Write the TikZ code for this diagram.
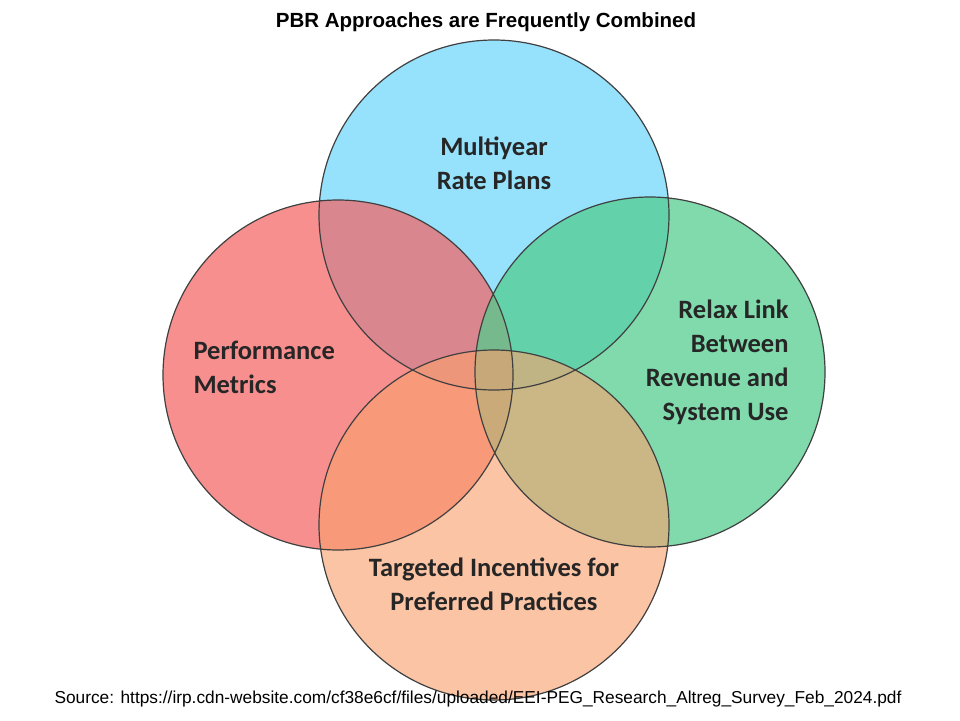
\documentclass[tikz,border=0pt]{standalone}
\usepackage{fontspec}
\setmainfont{Carlito}
\newfontfamily\lib{Liberation Sans}
\begin{document}
\begin{tikzpicture}[x=1pt,y=-1pt,
  circ/.style={fill opacity=0.72},
  lbl/.style={font=\bfseries\fontsize{26.5}{34}\selectfont,align=center,text=black!85}]
\useasboundingbox (0,0) rectangle (960,720);
\fill[white] (0,0) rectangle (960,720);
\node[font=\lib\bfseries\fontsize{20.5}{22}\selectfont] (title) at (486,22) {PBR Approaches are Frequently Combined};
\fill[circ,fill={rgb,255:red,110;green,214;blue,250}] (494,215) circle (175) coordinate (t);
\fill[circ,fill={rgb,255:red,244;green,100;blue,100}] (338,375) circle (175) coordinate (l);
\fill[circ,fill={rgb,255:red,80;green,205;blue,140}] (650,372) circle (175) coordinate (r);
\fill[circ,fill opacity=0.62,fill={rgb,255:red,250;green,160;blue,110}] (494,525) circle (175) coordinate (b);
\draw[black!75,line width=1.2pt] (494,215) circle (175) (338,375) circle (175) (650,372) circle (175) (494,525) circle (175);
\node[lbl] (n1) at (494,163) {Multiyear\\Rate Plans};
\node[lbl,align=left,anchor=west] (n2) at (190,367) {Performance\\Metrics};
\node[lbl,align=right,anchor=east] (n3) at (792,362) {Relax Link\\Between\\Revenue and\\System Use};
\node[lbl] (n4) at (494,584) {Targeted Incentives for\\Preferred Practices};
\node[font=\lib\fontsize{17.3}{18}\selectfont] (src) at (478,699) {Source: https://irp.cdn-website.com/cf38e6cf/files/uploaded/EEI-PEG\_Research\_Altreg\_Survey\_Feb\_2024.pdf};
\end{tikzpicture}
\end{document}
